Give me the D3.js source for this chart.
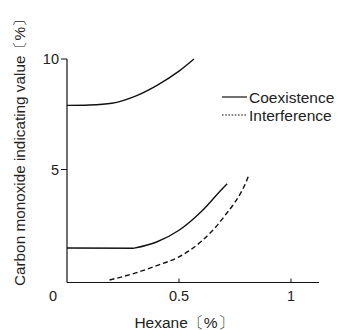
<!DOCTYPE html>
<html>
<head>
<meta charset="utf-8">
<script src="https://cdn.jsdelivr.net/npm/d3@7"></script>
<style>
  body { margin: 0; background: #fff; }
  svg text { font-family: "Liberation Sans", Arial, sans-serif; fill: #222; }
</style>
</head>
<body>
<script>
// hexane (%) vs CO indicating value (%)
var coexHighX = [0, 0.1, 0.2, 0.3, 0.4, 0.5, 0.567];
var coexHighY = [7.9, 7.92, 8.0, 8.3, 8.8, 9.45, 10];
var coexLowFlatX = [0, 0.3];
var coexLowFlatY = [1.45, 1.44];
var coexLowX  = [0.3, 0.4, 0.5, 0.6, 0.7, 0.715];
var coexLowY  = [1.44, 1.72, 2.25, 3.1, 4.2, 4.35];
var interfX   = [0.19, 0.3, 0.4, 0.5, 0.6, 0.7, 0.8, 0.812];
var interfY   = [0, 0.3, 0.65, 1.05, 1.75, 2.85, 4.45, 4.75];
var xTicks = [0.5, 1];
var yTicks = [5, 10];
var legendNames = ["Coexistence", "Interference"];

var W = 338, H = 330;
var svg = d3.select("body").append("svg").attr("width", W).attr("height", H);

var x = d3.scaleLinear().domain([0, 1.125]).range([67, 319]);
var y = d3.scaleLinear().domain([0, 10]).range([280, 59]);
var yAxisBottom = 282.5;

function pts(xs, ys) { return xs.map(function(v, i) { return [v, ys[i]]; }); }

var line = d3.line()
  .x(function(d) { return x(d[0]); })
  .y(function(d) { return Math.min(y(d[1]), yAxisBottom); })
  .curve(d3.curveMonotoneX);

// axes
svg.append("line").attr("x1", 67).attr("x2", 67).attr("y1", y(10)).attr("y2", yAxisBottom)
  .attr("stroke", "#111").attr("stroke-width", 1.2);
svg.append("line").attr("x1", 67).attr("x2", x(1.125)).attr("y1", yAxisBottom).attr("y2", yAxisBottom)
  .attr("stroke", "#111").attr("stroke-width", 1.2);

yTicks.forEach(function(t) {
  svg.append("line").attr("x1", 61).attr("x2", 67).attr("y1", y(t)).attr("y2", y(t))
    .attr("stroke", "#111").attr("stroke-width", 1);
  svg.append("text").attr("x", 59).attr("y", y(t)).attr("dy", "0.36em")
    .attr("text-anchor", "end").attr("font-size", 14.5).text(t);
});
xTicks.forEach(function(t) {
  svg.append("line").attr("x1", x(t)).attr("x2", x(t)).attr("y1", yAxisBottom - 4).attr("y2", yAxisBottom)
    .attr("stroke", "#111").attr("stroke-width", 1);
  svg.append("text").attr("x", x(t)).attr("y", 301)
    .attr("text-anchor", "middle").attr("font-size", 14.5).text(t);
});
svg.append("text").attr("x", 53).attr("y", 301).attr("text-anchor", "middle")
  .attr("font-size", 14.5).text("0");

// axis titles
svg.append("text").attr("x", 184).attr("y", 328).attr("text-anchor", "middle")
  .attr("font-size", 15.5).text("Hexane〔%〕");
svg.append("text").attr("transform", "translate(25,149) rotate(-90)").attr("text-anchor", "middle")
  .attr("font-size", 15.3).text("Carbon monoxide indicating value〔%〕");

// curves
[[coexHighX, coexHighY], [coexLowFlatX, coexLowFlatY], [coexLowX, coexLowY]].forEach(function(s) {
  svg.append("path").attr("d", line(pts(s[0], s[1])))
    .attr("fill", "none").attr("stroke", "#111").attr("stroke-width", 1.4);
});
svg.append("path").attr("d", line(pts(interfX, interfY)))
  .attr("fill", "none").attr("stroke", "#111").attr("stroke-width", 1.4)
  .attr("stroke-dasharray", "5,3");

// legend
var lg = svg.append("g");
legendNames.forEach(function(n, i) {
  var ly = 97 + i * 18;
  lg.append("line").attr("x1", 222).attr("x2", 247).attr("y1", ly).attr("y2", ly)
    .attr("stroke", "#111").attr("stroke-width", 1.2)
    .attr("stroke-dasharray", i ? "1.6,1.6" : null);
  lg.append("text").attr("x", 249).attr("y", ly).attr("dy", "0.36em")
    .attr("font-size", 15.5).text(n);
});
</script>
</body>
</html>
